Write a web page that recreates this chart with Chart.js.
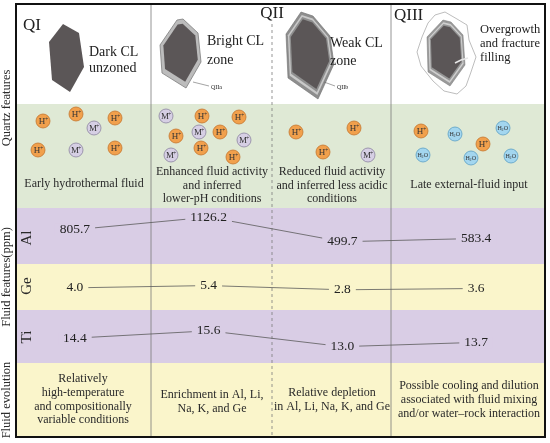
<!DOCTYPE html>
<html>
<head>
<meta charset="utf-8">
<script src="https://cdn.jsdelivr.net/npm/chart.js@4.4.0/dist/chart.umd.min.js"></script>
<style>
  html, body { margin: 0; padding: 0; background: #fff; }
  #wrap { width: 550px; height: 443px; position: relative; }
</style>
</head>
<body>
<div id="wrap"><canvas id="myChart"></canvas></div>
<script>
// stages and trace element contents (ppm)
const stages = ['QI', 'QIIa', 'QIIb', 'QIII'];
const alValues = [805.7, 1126.2, 499.7, 583.4];
const geValues = [4.0, 5.4, 2.8, 3.6];
const tiValues = [14.4, 15.6, 13.0, 13.7];
const elementNames = ['Al', 'Ge', 'Ti'];
const sideLabels = ['Quartz features', 'Fluid features(ppm)', 'Fluid evolution'];
const crystalText = [['Dark CL', 'unzoned'], ['Bright CL', 'zone'], ['Weak CL', 'zone'], ['Overgrowth', 'and fracture', 'filling']];
const fluidText = [
	['Early hydrothermal fluid'],
	['Enhanced fluid activity', 'and inferred', 'lower-pH conditions'],
	['Reduced fluid activity', 'and inferred less acidic', 'conditions'],
	['Late external-fluid input']
];
const evolutionText = [
	['Relatively', 'high-temperature', 'and compositionally', 'variable conditions'],
	['Enrichment in Al, Li,', 'Na, K, and Ge'],
	['Relative depletion', 'in Al, Li, Na, K, and Ge'],
	['Possible cooling and dilution', 'associated with fluid mixing', 'and/or water\u2013rock interaction']
];

const SERIF = '"Liberation Serif", "DejaVu Serif", serif';
const PURPLE = '#d9cde5';
const YELLOW = '#faf5cb';
const GREEN = '#dfe9d5';
const colX = [16, 151, 272, 391, 545];
const colMid = [84, 212, 332, 469];
const rowY = [4, 104, 208, 264, 310, 363, 437];

function poly(ctx, pts, fill, stroke, lw) {
	ctx.beginPath();
	pts.forEach((p, i) => i ? ctx.lineTo(p[0], p[1]) : ctx.moveTo(p[0], p[1]));
	ctx.closePath();
	if (fill) { ctx.fillStyle = fill; ctx.fill(); }
	if (stroke) { ctx.strokeStyle = stroke; ctx.lineWidth = lw || 0.8; ctx.stroke(); }
}

function shrink(pts, f) {
	let cx = 0, cy = 0;
	pts.forEach(p => { cx += p[0]; cy += p[1]; });
	cx /= pts.length; cy /= pts.length;
	return pts.map(p => [cx + (p[0] - cx) * f, cy + (p[1] - cy) * f]);
}

function ion(ctx, x, y, kind) {
	const styles = {
		H: ['#f1a04c', '#c4762e'],
		M: ['#d6cfe4', '#8c84a0'],
		W: ['#a3d6ef', '#5c9fc4']
	};
	ctx.beginPath();
	ctx.arc(x, y, 7, 0, Math.PI * 2);
	ctx.fillStyle = styles[kind][0];
	ctx.fill();
	ctx.strokeStyle = styles[kind][1];
	ctx.lineWidth = 0.8;
	ctx.stroke();
	ctx.fillStyle = '#333';
	ctx.textBaseline = 'middle';
	if (kind === 'W') {
		ctx.textAlign = 'left';
		ctx.font = '6px ' + SERIF;
		ctx.fillText('H', x - 5.5, y);
		ctx.font = '4px ' + SERIF;
		ctx.fillText('2', x - 1.5, y + 1.5);
		ctx.font = '6px ' + SERIF;
		ctx.fillText('O', x + 0.8, y);
	} else {
		ctx.textAlign = 'center';
		ctx.font = '9px ' + SERIF;
		ctx.fillText(kind, x - 1, y + 0.5);
		ctx.font = '6px ' + SERIF;
		ctx.fillText('+', x + 3.8, y - 2);
	}
}

function lines(ctx, arr, x, y, gap) {
	arr.forEach((t, i) => ctx.fillText(t, x, y + i * gap));
}

const backdrop = {
	id: 'backdrop',
	beforeDatasetsDraw(chart) {
		const ctx = chart.ctx;
		ctx.save();
		// row bands
		const bands = [null, GREEN, PURPLE, YELLOW, PURPLE, YELLOW];
		bands.forEach((c, i) => {
			if (!c) return;
			ctx.fillStyle = c;
			ctx.fillRect(colX[0], rowY[i], colX[4] - colX[0], rowY[i + 1] - rowY[i]);
		});

		// column separators
		ctx.strokeStyle = '#7a7a7a';
		ctx.lineWidth = 0.8;
		[colX[1], colX[3]].forEach(x => {
			ctx.beginPath(); ctx.moveTo(x, rowY[0]); ctx.lineTo(x, rowY[6]); ctx.stroke();
		});
		ctx.setLineDash([3, 3]);
		ctx.beginPath(); ctx.moveTo(colX[2], 24); ctx.lineTo(colX[2], rowY[6]); ctx.stroke();
		ctx.setLineDash([]);

		// crystals
		const q1 = [[63, 24], [79, 33], [84, 67], [70, 92], [52, 80], [49, 42]];
		poly(ctx, q1, '#5b5657');

		const q2a = [[177, 20], [183, 19], [198, 33], [201, 62], [186, 88], [162, 73], [160, 45]];
		poly(ctx, q2a, '#bcbcbc', '#7d7d7d', 0.8);
		poly(ctx, shrink(q2a, 0.84), '#5b5657');
		ctx.strokeStyle = '#666'; ctx.lineWidth = 0.6;
		ctx.beginPath(); ctx.moveTo(193, 82); ctx.lineTo(209, 86); ctx.stroke();

		const q2b = [[301, 12], [313, 16], [330, 36], [334, 64], [318, 99], [288, 78], [286, 34]];
		poly(ctx, q2b, '#8e8e8e', '#6e6e6e', 0.6);
		poly(ctx, shrink(q2b, 0.92), '#c9c9c9');
		poly(ctx, shrink(q2b, 0.86), '#8f8f8f');
		poly(ctx, shrink(q2b, 0.8), '#5b5657');
		ctx.strokeStyle = '#666'; ctx.lineWidth = 0.6;
		ctx.beginPath(); ctx.moveTo(324, 82); ctx.lineTo(335, 86); ctx.stroke();

		const over = [[435, 15], [445, 12], [457, 19], [467, 25], [469, 40], [476, 57], [471, 72], [466, 86], [457, 94],
			[444, 91], [433, 81], [421, 66], [417, 52], [422, 37], [428, 23]];
		poly(ctx, over, '#ffffff', '#a0a0a0', 0.7);
		const q3 = [[443, 20], [451, 22], [463, 35], [465, 65], [450, 86], [428, 72], [427, 37]];
		poly(ctx, q3, '#9a9a9a', '#777', 0.5);
		poly(ctx, shrink(q3, 0.92), '#cfcfcf');
		poly(ctx, shrink(q3, 0.86), '#949494');
		poly(ctx, shrink(q3, 0.8), '#5b5657');
		ctx.strokeStyle = '#e6e6e6'; ctx.lineWidth = 1.6;
		ctx.beginPath(); ctx.moveTo(455, 63); ctx.lineTo(461, 60); ctx.lineTo(468, 58); ctx.stroke();

		// crystal labels
		ctx.fillStyle = '#222';
		ctx.textBaseline = 'middle';
		ctx.textAlign = 'left';
		ctx.font = '17px ' + SERIF;
		ctx.fillText('QI', 23, 26);
		ctx.fillText('QIII', 394, 16);
		ctx.textAlign = 'center';
		ctx.fillText('QII', colX[2], 14);
		ctx.textAlign = 'left';
		ctx.font = '14px ' + SERIF;
		lines(ctx, crystalText[0], 89, 52, 16);
		lines(ctx, crystalText[1], 207, 41, 19);
		lines(ctx, crystalText[2], 330, 43, 18);
		ctx.font = '12.5px ' + SERIF;
		lines(ctx, crystalText[3], 480, 30, 14);
		ctx.font = '6px ' + SERIF;
		ctx.fillText('QIIa', 211, 87);
		ctx.fillText('QIIb', 337, 87);

		// fluid ions
		const ions = [
			[43, 121, 'H'], [76, 114, 'H'], [115, 118, 'H'], [94, 128, 'M'], [38, 150, 'H'], [76, 150, 'M'], [115, 148, 'H'],
			[166, 116, 'M'], [202, 116, 'H'], [239, 117, 'H'], [176, 136, 'H'], [199, 132, 'M'], [220, 132, 'H'],
			[244, 140, 'M'], [171, 155, 'M'], [201, 148, 'H'], [233, 157, 'H'],
			[296, 132, 'H'], [354, 128, 'H'], [323, 152, 'H'], [368, 155, 'M'],
			[421, 131, 'H'], [455, 134, 'W'], [503, 128, 'W'], [483, 144, 'H'], [423, 155, 'W'], [471, 158, 'W'], [511, 156, 'W']
		];
		ions.forEach(p => ion(ctx, p[0], p[1], p[2]));

		ctx.fillStyle = '#2a2a2a';
		ctx.textAlign = 'center';
		ctx.textBaseline = 'middle';
		ctx.font = '12px ' + SERIF;
		lines(ctx, fluidText[0], colMid[0], 184, 13.5);
		lines(ctx, fluidText[1], colMid[1], 172, 13.5);
		lines(ctx, fluidText[2], colMid[2], 172, 13.5);
		lines(ctx, fluidText[3], colMid[3], 185, 13.5);

		lines(ctx, evolutionText[0], colMid[0] - 1, 379, 13.7);
		lines(ctx, evolutionText[1], colMid[1], 395, 13.7);
		lines(ctx, evolutionText[2], colMid[2], 393, 13.7);
		lines(ctx, evolutionText[3], colMid[3], 386, 13.7);

		// element names and side labels
		const elemY = [238, 286, 337];
		ctx.font = '15px ' + SERIF;
		elementNames.forEach((n, i) => {
			ctx.save();
			ctx.translate(27, elemY[i]);
			ctx.rotate(-Math.PI / 2);
			ctx.fillText(n, 0, 0);
			ctx.restore();
		});
		const sideY = [108, 277, 400];
		ctx.font = '12.5px ' + SERIF;
		sideLabels.forEach((n, i) => {
			ctx.save();
			ctx.translate(7, sideY[i]);
			ctx.rotate(-Math.PI / 2);
			ctx.fillText(n, 0, 0);
			ctx.restore();
		});
		ctx.restore();
	},
	afterDatasetsDraw(chart) {
		const ctx = chart.ctx;
		ctx.save();
		ctx.font = '13.5px ' + SERIF;
		ctx.textAlign = 'center';
		ctx.textBaseline = 'middle';
		chart.data.datasets.forEach((ds, di) => {
			chart.getDatasetMeta(di).data.forEach((pt, i) => {
				const txt = ds.data[i].toFixed(1);
				const w = ctx.measureText(txt).width + 10;
				ctx.fillStyle = ds.bandColor;
				ctx.fillRect(pt.x - w / 2, pt.y - 6, w, 12);
				ctx.fillStyle = '#222';
				ctx.fillText(txt, pt.x, pt.y);
			});
		});
		// outer frame
		ctx.strokeStyle = '#111';
		ctx.lineWidth = 2;
		ctx.strokeRect(colX[0], rowY[0], colX[4] - colX[0], rowY[6] - rowY[0]);
		ctx.restore();
	}
};

const ctx = document.getElementById('myChart').getContext('2d');
const lineStyle = { borderColor: '#5a5a5a', borderWidth: 0.8, pointRadius: 0, tension: 0, fill: false };
const myChart = new Chart(ctx, {
	type: 'line',
	data: {
		labels: stages,
		datasets: [
			Object.assign({ label: 'Al', data: alValues, yAxisID: 'yAl', bandColor: PURPLE }, lineStyle),
			Object.assign({ label: 'Ge', data: geValues, yAxisID: 'yGe', bandColor: YELLOW }, lineStyle),
			Object.assign({ label: 'Ti', data: tiValues, yAxisID: 'yTi', bandColor: PURPLE }, lineStyle)
		]
	},
	options: {
		responsive: true,
		maintainAspectRatio: false,
		animation: false,
		layout: { padding: { left: 8, right: 7, top: 0, bottom: 0 } },
		plugins: { legend: { display: false }, tooltip: { enabled: false } },
		scales: {
			x: { display: false, offset: true },
			yAl: { display: false, min: -4608, max: 6636 },
			yGe: { display: false, min: -91.2, max: 180.6 },
			yTi: { display: false, min: -2.82, max: 69.92 }
		}
	},
	plugins: [backdrop]
});
</script>
</body>
</html>
